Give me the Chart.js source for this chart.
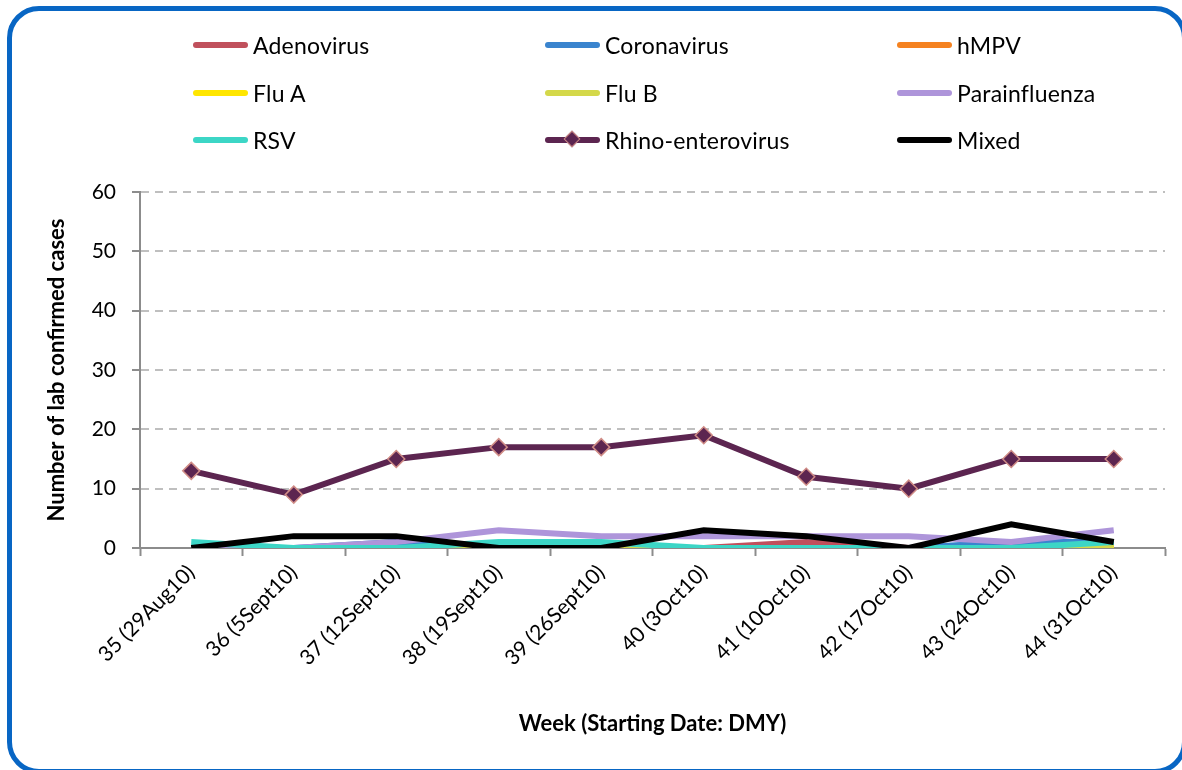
<!DOCTYPE html>
<html>
<head>
<meta charset="utf-8">
<script src="https://cdn.jsdelivr.net/npm/chart.js@4.4.1/dist/chart.umd.min.js"></script>
<style>
  body { margin: 0; background: #fff; font-family: Lato, "Open Sans", sans-serif; }
  #wrap { position: relative; width: 1182px; height: 770px; overflow: hidden; }
  #frame { position: absolute; left: 7px; top: 6px; width: 1180px; height: 768px;
           border: 5px solid #0866C4; border-radius: 32px; box-sizing: border-box; }
  #chart { position: absolute; left: 0; top: 0; }
  .lg { position: absolute; display: flex; align-items: center; height: 30px;
        font-size: 23px; color: #000; white-space: nowrap; letter-spacing: 0.2px; }
  .sw { position: relative; width: 55px; height: 6px; border-radius: 3px; margin-right: 5px; }
  .dm { position: absolute; left: 21px; top: -4px; width: 12px; height: 12px;
        transform: rotate(45deg); box-sizing: border-box; border: 1.5px solid #D08C86; }
</style>
</head>
<body>
<div id="wrap">
  <div id="frame"></div>
  <canvas id="chart" width="1182" height="770"></canvas>
  <div id="legend"></div>
</div>
<script>
// weeks on the x axis
const weeks = ['35 (29Aug10)', '36 (5Sept10)', '37 (12Sept10)', '38 (19Sept10)', '39 (26Sept10)',
               '40 (3Oct10)', '41 (10Oct10)', '42 (17Oct10)', '43 (24Oct10)', '44 (31Oct10)'];

// lab confirmed cases per virus
const adenovirus    = [0, 0, 0, 0, 0, 0, 1, 0, 0, 0];
const coronavirus   = [0, 0, 1, 0, 0, 0, 0, 0, 1, 1];
const hmpv          = [0, 0, 0, 0, 0, 0, 0, 0, 0, 0];
const fluA          = [0, 0, 0, 0, 0, 0, 0, 0, 0, 0];
const fluB          = [0, 0, 0, 0, 0, 0, 0, 0, 0, 0];
const parainfluenza = [0, 0, 1, 3, 2, 2, 2, 2, 1, 3];
const rsv           = [1, 0, 0, 1, 1, 0, 0, 0, 0, 1];
const rhino         = [13, 9, 15, 17, 17, 19, 12, 10, 15, 15];
const mixed         = [0, 2, 2, 0, 0, 3, 2, 0, 4, 1];

const yTicks = [0, 10, 20, 30, 40, 50, 60];

const series = [
  { name: 'Adenovirus',          data: adenovirus,    color: '#C0505C' },
  { name: 'Coronavirus',         data: coronavirus,   color: '#3A84CE' },
  { name: 'hMPV',                data: hmpv,          color: '#F58220' },
  { name: 'Flu A',               data: fluA,          color: '#FFE600' },
  { name: 'Flu B',               data: fluB,          color: '#D4D84A' },
  { name: 'Parainfluenza',       data: parainfluenza, color: '#AE95DA' },
  { name: 'RSV',                 data: rsv,           color: '#3CD6C6' },
  { name: 'Rhino-enterovirus',   data: rhino,         color: '#5C2550', marker: true },
  { name: 'Mixed',               data: mixed,         color: '#000000' }
];

// legend, 3 columns x 3 rows
const legendCols = [193, 545, 897];
const legendRows = [45, 93, 140];
const legend = document.getElementById('legend');
series.forEach((s, i) => {
  const el = document.createElement('div');
  el.className = 'lg';
  el.style.left = legendCols[i % 3] + 'px';
  el.style.top = (legendRows[Math.floor(i / 3)] - 15) + 'px';
  const sw = document.createElement('div');
  sw.className = 'sw';
  sw.style.background = s.color;
  if (s.marker) {
    const d = document.createElement('div');
    d.className = 'dm';
    d.style.background = s.color;
    sw.appendChild(d);
  }
  el.appendChild(sw);
  el.appendChild(document.createTextNode(s.name));
  legend.appendChild(el);
});

const tickFont = { family: 'Lato', size: 21 };
const titleFont = { family: 'Lato', size: 22, weight: 'bold' };

new Chart(document.getElementById('chart'), {
  type: 'line',
  data: {
    labels: weeks,
    datasets: series.map((s, i) => ({
      label: s.name,
      data: s.data,
      borderColor: s.color,
      backgroundColor: s.color,
      borderWidth: 6,
      order: series.length - i,
      tension: 0,
      pointStyle: s.marker ? 'rectRot' : 'circle',
      pointRadius: s.marker ? 8.5 : 0,
      pointBorderColor: s.marker ? '#D08C86' : s.color,
      pointBorderWidth: s.marker ? 1.5 : 0,
      pointBackgroundColor: s.color
    }))
  },
  options: {
    responsive: false,
    animation: false,
    layout: { padding: { top: 192, right: 17, left: 0, bottom: 0 } },
    plugins: { legend: { display: false }, tooltip: { enabled: false } },
    scales: {
      x: {
        offset: true,
        afterFit: (s) => { s.height = 222; },
        grid: { display: true, offset: true, drawOnChartArea: false, tickLength: 8,
                tickColor: '#8C8C8C', tickWidth: 2 },
        border: { color: '#8C8C8C', width: 2 },
        ticks: { color: '#000', font: tickFont, minRotation: 45, maxRotation: 45, padding: 4 },
        title: { display: true, text: 'Week (Starting Date: DMY)', color: '#000', font: titleFont,
                 padding: { top: 0, bottom: 33 } }
      },
      y: {
        min: 0,
        max: 60,
        afterFit: (s) => { s.width = 140; },
        afterBuildTicks: (s) => { s.ticks = yTicks.map(v => ({ value: v })); },
        grid: { color: '#BFBFBF', lineWidth: 2, tickLength: 8, tickColor: '#8C8C8C', tickWidth: 2,
                tickBorderDash: [] },
        border: { color: '#8C8C8C', width: 2, dash: [8, 6] },
        ticks: { color: '#000', font: tickFont, padding: 16 },
        title: { display: true, text: 'Number of lab confirmed cases', color: '#000', font: titleFont,
                 padding: { top: 44, bottom: 0 } }
      }
    }
  }
});
</script>
</body>
</html>
